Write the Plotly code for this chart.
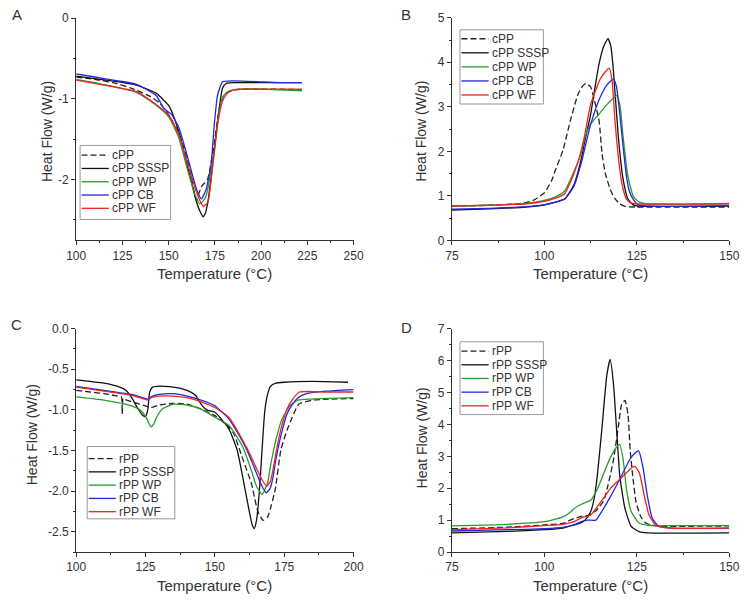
import plotly.graph_objects as go

# ---------------- Panel A (cPP heating) ----------------
A_cPP_T = [100, 110, 120, 130, 140, 145, 150, 155, 159, 162.4, 164.2, 165.2, 166.5, 168, 169.5, 171, 172.5, 174.7, 177.4, 180, 185, 190, 200, 210, 222]
A_cPP_v = [-0.73, -0.76, -0.80, -0.87, -0.97, -1.05, -1.20, -1.40, -1.66, -1.96, -2.20, -2.25, -2.16, -2.08, -2.04, -2.00, -1.85, -1.55, -1.12, -0.95, -0.89, -0.88, -0.88, -0.88, -0.89]
A_SSSP_T = [100, 110, 120, 132.6, 143.2, 150.2, 155.4, 160.7, 165.1, 167.5, 168.6, 169.8, 171.2, 173, 174.8, 177.4, 179.1, 181, 185, 190, 200, 210, 222]
A_SSSP_v = [-0.72, -0.75, -0.78, -0.83, -0.93, -1.09, -1.40, -1.88, -2.28, -2.42, -2.46, -2.42, -2.28, -1.96, -1.60, -1.11, -0.87, -0.81, -0.80, -0.80, -0.80, -0.80, -0.80]
A_WP_T = [100, 110, 120, 132.6, 143.2, 150.2, 155.4, 160.7, 164.5, 166.8, 168.5, 170.3, 172.1, 174.7, 177.4, 179.5, 182, 185, 190, 200, 210, 222]
A_WP_v = [-0.76, -0.80, -0.85, -0.92, -1.08, -1.23, -1.48, -1.92, -2.20, -2.30, -2.27, -2.20, -2.00, -1.64, -1.15, -0.97, -0.91, -0.89, -0.88, -0.88, -0.89, -0.90]
A_CB_T = [100, 110, 120, 132.6, 143.2, 147.5, 150.2, 151.5, 155.4, 160.7, 165.1, 167.7, 170.3, 173, 174.7, 176.5, 179.1, 182, 190, 200, 210, 222]
A_CB_v = [-0.69, -0.73, -0.77, -0.82, -0.96, -1.12, -1.17, -1.19, -1.35, -1.76, -2.12, -2.24, -2.12, -1.80, -1.31, -0.95, -0.79, -0.78, -0.78, -0.79, -0.80, -0.80]
A_WF_T = [100, 110, 120, 132.6, 143.2, 150.2, 155.4, 160.7, 165.1, 168.6, 171.2, 173, 174.8, 176.5, 179.1, 181.7, 185, 190, 200, 210, 222]
A_WF_v = [-0.77, -0.81, -0.85, -0.91, -1.07, -1.21, -1.44, -1.84, -2.16, -2.33, -2.28, -2.00, -1.64, -1.31, -1.03, -0.93, -0.89, -0.88, -0.88, -0.88, -0.88]

# ---------------- Panel B (cPP cooling) ----------------
B_cPP_T = [75, 85, 92, 95, 97, 100, 102, 103, 105, 107, 109, 110, 111.2, 112.5, 113.4, 114.8, 115.6, 116.5, 117.8, 119, 120.4, 122, 125, 150]
B_cPP_v = [0.77, 0.79, 0.82, 0.85, 0.90, 1.07, 1.35, 1.58, 2.02, 2.68, 3.26, 3.43, 3.52, 3.45, 3.19, 2.68, 1.95, 1.50, 1.15, 0.95, 0.82, 0.76, 0.75, 0.75]
B_SSSP_T = [75, 85, 95, 100, 103, 105.5, 108, 109.9, 111, 112.5, 114.7, 116, 117.2, 118, 118.7, 120, 121.3, 122.6, 124, 126, 150]
B_SSSP_v = [0.68, 0.71, 0.75, 0.80, 0.86, 0.93, 1.25, 1.80, 2.25, 2.83, 3.93, 4.35, 4.53, 4.35, 3.78, 2.32, 1.37, 0.93, 0.80, 0.77, 0.77]
B_WP_T = [75, 85, 95, 100, 103, 105.5, 108, 109.9, 111, 112.5, 114.7, 116.9, 118.5, 119.6, 120.5, 121.3, 122.6, 124, 125.3, 127, 150]
B_WP_v = [0.77, 0.79, 0.83, 0.90, 0.98, 1.11, 1.55, 1.95, 2.32, 2.61, 2.83, 3.05, 3.18, 3.25, 3.00, 2.32, 1.44, 1.00, 0.88, 0.83, 0.82]
B_CB_T = [75, 85, 95, 100, 103, 105.5, 108, 110, 112.5, 115, 117, 118.7, 119.5, 120.4, 121.3, 122.2, 123, 124, 125.5, 150]
B_CB_v = [0.70, 0.72, 0.76, 0.80, 0.86, 0.93, 1.22, 1.75, 2.60, 3.20, 3.50, 3.62, 3.45, 2.83, 2.10, 1.44, 1.10, 0.93, 0.80, 0.78]
B_WF_T = [75, 85, 95, 100, 103, 105.5, 107, 109, 110.8, 112.5, 115.2, 117.5, 118.3, 119.1, 120.4, 121.3, 122.2, 123.5, 150]
B_WF_v = [0.77, 0.79, 0.82, 0.88, 0.95, 1.05, 1.30, 1.73, 2.32, 3.05, 3.64, 3.87, 3.60, 2.68, 1.59, 1.15, 0.93, 0.84, 0.83]

# ---------------- Panel C (rPP heating) ----------------
C_rPP_T = [100, 105, 110, 115, 116.3, 116.6, 116.9, 117.5, 120, 125, 127, 130, 135, 140, 145, 150, 155, 156.8, 160, 163.3, 164.4, 165.5, 167.4, 169, 170.3, 171.8, 173.8, 176, 177.9, 180.2, 185, 190, 200]
C_rPP_v = [-0.76, -0.78, -0.80, -0.83, -0.84, -1.05, -0.86, -0.87, -0.90, -0.95, -0.97, -0.94, -0.92, -0.93, -0.99, -1.07, -1.21, -1.29, -1.60, -1.92, -2.10, -2.25, -2.36, -2.32, -2.18, -1.97, -1.49, -1.25, -1.09, -0.93, -0.88, -0.87, -0.86]
C_SSSP_T = [100, 105, 110, 115, 118, 120, 122, 124, 125, 125.8, 126.5, 127.5, 129, 132, 135, 140, 143, 145, 147, 150, 155, 158, 160, 162, 163.5, 164.2, 165, 166, 167, 168, 169, 170, 172, 175, 185, 198]
C_SSSP_v = [-0.63, -0.65, -0.67, -0.71, -0.76, -0.85, -0.97, -1.07, -1.08, -1.00, -0.78, -0.72, -0.71, -0.71, -0.72, -0.76, -0.82, -0.93, -1.00, -1.03, -1.23, -1.49, -1.82, -2.18, -2.42, -2.46, -2.36, -2.02, -1.49, -1.01, -0.81, -0.71, -0.67, -0.66, -0.65, -0.66]
C_WP_T = [100, 110, 120, 123, 125, 126, 127, 128, 129, 131, 135, 140, 145, 150, 155, 160, 163, 165, 167, 169, 170, 172, 174, 177, 180, 190, 200]
C_WP_v = [-0.84, -0.88, -0.95, -1.00, -1.08, -1.15, -1.21, -1.17, -1.09, -0.99, -0.93, -0.94, -0.99, -1.09, -1.19, -1.45, -1.73, -1.94, -2.04, -1.90, -1.70, -1.37, -1.13, -0.95, -0.88, -0.86, -0.85]
C_CB_T = [100, 110, 120, 124, 126, 127, 130, 135, 140, 145, 150, 155, 158, 160, 163, 165, 167, 168.5, 170, 171, 172, 174, 176, 178, 180, 183, 190, 200]
C_CB_v = [-0.71, -0.76, -0.81, -0.85, -0.87, -0.84, -0.81, -0.80, -0.83, -0.88, -0.95, -1.11, -1.27, -1.39, -1.61, -1.78, -1.94, -2.02, -1.96, -1.82, -1.61, -1.29, -1.05, -0.93, -0.85, -0.80, -0.77, -0.75]
C_WF_T = [100, 110, 120, 124, 126, 127, 130, 135, 140, 145, 150, 155, 160, 163, 165, 167, 168.7, 170, 171, 172, 174, 176, 178, 180.5, 190, 200]
C_WF_v = [-0.72, -0.77, -0.82, -0.86, -0.88, -0.85, -0.83, -0.83, -0.85, -0.90, -0.97, -1.09, -1.37, -1.57, -1.72, -1.86, -1.94, -1.88, -1.73, -1.53, -1.21, -0.99, -0.87, -0.78, -0.78, -0.78]

# ---------------- Panel D (rPP cooling) ----------------
D_rPP_T = [75, 90, 100, 105, 108, 110, 112, 114, 116, 117, 118, 118.7, 120, 120.9, 121.8, 122.6, 123.2, 123.9, 124.8, 126.1, 127.5, 130, 150]
D_rPP_v = [0.73, 0.78, 0.85, 0.90, 1.05, 1.12, 1.15, 1.30, 1.60, 2.00, 2.50, 2.90, 3.92, 4.63, 4.75, 4.32, 3.20, 2.38, 1.56, 1.10, 0.90, 0.82, 0.82]
D_SSSP_T = [75, 90, 100, 105, 108, 110, 111, 112.5, 113.5, 114.3, 115.6, 116.9, 117.8, 118.7, 119.6, 120.4, 121.8, 123.5, 125.7, 128, 150]
D_SSSP_v = [0.60, 0.65, 0.70, 0.75, 0.85, 0.92, 1.00, 1.26, 1.70, 2.38, 3.92, 5.55, 6.04, 5.25, 3.71, 2.38, 1.36, 0.80, 0.63, 0.60, 0.60]
D_WP_T = [75, 90, 100, 103, 105, 107, 108, 109.9, 111, 112.5, 114.3, 116.1, 117.8, 119.6, 120.4, 121.3, 122.2, 123.5, 125.7, 128, 150]
D_WP_v = [0.82, 0.87, 0.95, 1.03, 1.10, 1.25, 1.36, 1.49, 1.55, 1.62, 1.97, 2.48, 2.95, 3.30, 3.37, 2.90, 1.97, 1.26, 0.90, 0.84, 0.83]
D_CB_T = [75, 90, 100, 105, 108, 110, 111.7, 113.9, 115.2, 117.8, 120.4, 123.1, 124.5, 125.5, 126.6, 127.9, 129.2, 131, 135, 150]
D_CB_v = [0.66, 0.70, 0.73, 0.77, 0.85, 0.95, 1.00, 1.00, 1.21, 1.72, 2.28, 2.90, 3.10, 3.17, 2.69, 1.72, 1.05, 0.80, 0.75, 0.75]
D_WF_T = [75, 90, 100, 105, 108, 110, 112.5, 115.2, 117.8, 120.4, 123.1, 124.4, 125.7, 127.0, 128.3, 130.1, 133, 150]
D_WF_v = [0.70, 0.76, 0.83, 0.87, 0.95, 1.07, 1.16, 1.56, 1.98, 2.28, 2.59, 2.69, 2.48, 1.77, 1.16, 0.85, 0.76, 0.75]

# ---------------- labels / ticks ----------------
A_names = ["cPP", "cPP SSSP", "cPP WP", "cPP CB", "cPP WF"]
C_names = ["rPP", "rPP SSSP", "rPP WP", "rPP CB", "rPP WF"]
panel_letters = ["A", "B", "C", "D"]
x_title = "Temperature (°C)"
y_title = "Heat Flow (W/g)"
A_yticks = [0, -1, -2]
A_ytext = ["0", "-1", "-2"]
C_yticks = [0.0, -0.5, -1.0, -1.5, -2.0, -2.5]
C_ytext = ["0.0", "-0.5", "-1.0", "-1.5", "-2.0", "-2.5"]
B_yticks = [0, 1, 2, 3, 4, 5]
D_yticks = [0, 1, 2, 3, 4, 5, 6, 7]

# ---------------- styles ----------------
COLORS = ["#222222", "#111111", "#2a9a2a", "#2424e0", "#ee2222"]
DASHES = ["6px,3px", "solid", "solid", "solid", "solid"]
FONT = "Liberation Sans, Arial, sans-serif"
TXT = "#333333"
W, H = 750, 603

def px(xp):
    return xp / W

def py(yp):
    return 1 - yp / H

panels = [
    dict(series=[(A_cPP_T, A_cPP_v), (A_SSSP_T, A_SSSP_v), (A_WP_T, A_WP_v), (A_CB_T, A_CB_v), (A_WF_T, A_WF_v)],
         names=A_names, xd=(68, 353), yd=(11.3, 238.7), xr=[100, 250], yr=[-2.75, 0],
         ytv=A_yticks, ytt=A_ytext, ymin=0.5,
         box=(72, 165, 141.7, 217.5), ent0=151.7, step=13.6),
    dict(series=[(B_cPP_T, B_cPP_v), (B_SSSP_T, B_SSSP_v), (B_WP_T, B_WP_v), (B_CB_T, B_CB_v), (B_WF_T, B_WF_v)],
         names=A_names, xd=(454, 739), yd=(11, 239), xr=[75, 150], yr=[0, 5],
         ytv=B_yticks, ytt=[str(t) for t in B_yticks], ymin=0.5,
         box=(462.3, 548, 23.3, 99.3), ent0=32.5, step=14.4),
    dict(series=[(C_rPP_T, C_rPP_v), (C_SSSP_T, C_SSSP_v), (C_WP_T, C_WP_v), (C_CB_T, C_CB_v), (C_WF_T, C_WF_v)],
         names=C_names, xd=(68, 353), yd=(329.3, 558), xr=[100, 200], yr=[-2.75, 0],
         ytv=C_yticks, ytt=C_ytext, ymin=0.25,
         box=(79.3, 169.3, 450, 524), ent0=462.3, step=13.6),
    dict(series=[(D_rPP_T, D_rPP_v), (D_SSSP_T, D_SSSP_v), (D_WP_T, D_WP_v), (D_CB_T, D_CB_v), (D_WF_T, D_WF_v)],
         names=C_names, xd=(454, 739), yd=(329.3, 558), xr=[75, 150], yr=[0, 7],
         ytv=D_yticks, ytt=[str(t) for t in D_yticks], ymin=0.5,
         box=(462.3, 548, 342.7, 417.3), ent0=352.3, step=14.0),
]

fig = go.Figure()
layout = dict(
    width=W, height=H, margin=dict(l=0, r=0, t=0, b=0),
    paper_bgcolor="white", plot_bgcolor="white",
    font=dict(family=FONT, color=TXT, size=12),
    showlegend=False,
)
shapes = []
annotations = []

for i, p in enumerate(panels):
    k = "" if i == 0 else str(i + 1)
    for j, ((T, v), name) in enumerate(zip(p["series"], p["names"])):
        fig.add_trace(go.Scatter(
            x=T, y=v, mode="lines", name=name,
            line=dict(color=COLORS[j], width=1.3, dash=DASHES[j], shape="spline", smoothing=0.5),
            xaxis="x" + k, yaxis="y" + k,
        ))
    axcommon = dict(showgrid=False, zeroline=False, showline=True, linecolor=TXT, linewidth=1,
                    ticks="outside", ticklen=4, tickwidth=1, tickcolor=TXT,
                    tickfont=dict(size=12, color=TXT),
                    minor=dict(ticks="outside", ticklen=2, tickwidth=1, tickcolor=TXT))
    layout["xaxis" + k] = dict(domain=[px(p["xd"][0]), px(p["xd"][1])], range=p["xr"], dtick=25, tick0=0,
                               anchor="y" + k, minor_dtick=12.5, **axcommon)
    layout["yaxis" + k] = dict(domain=[py(p["yd"][1]), py(p["yd"][0])], range=p["yr"],
                               tickmode="array", tickvals=p["ytv"], ticktext=p["ytt"],
                               anchor="x" + k, minor_dtick=p["ymin"], minor_tick0=0, **axcommon)

    # legend box (drawn as a framed panel with line samples and real text)
    bx0, bx1, by0, by1 = p["box"]
    shapes.append(dict(type="rect", xref="paper", yref="paper", x0=px(bx0), x1=px(bx1), y0=py(by1), y1=py(by0),
                       line=dict(color="#999999", width=1), fillcolor="white", layer="above"))
    for j, name in enumerate(p["names"]):
        ey = p["ent0"] + j * p["step"]
        shapes.append(dict(type="line", xref="paper", yref="paper", x0=px(bx0 + 1.5), x1=px(bx0 + 29.5),
                           y0=py(ey), y1=py(ey), layer="above",
                           line=dict(color=COLORS[j], width=1.3, dash=DASHES[j])))
        annotations.append(dict(text=name, x=px(bx0 + 30.5), y=py(ey), xref="paper", yref="paper",
                                showarrow=False, xanchor="left", yanchor="middle",
                                font=dict(size=12, color=TXT)))

fig.update_layout(**layout)

# axis titles
for i, p in enumerate(panels):
    xc = (p["xd"][0] + p["xd"][1]) / 2
    ybot = p["yd"][1]
    annotations.append(dict(text=x_title, x=px(xc), y=py(ybot + 34), xref="paper", yref="paper",
                            showarrow=False, font=dict(size=15, color=TXT), xanchor="center", yanchor="middle"))
y_title_pos = [(38, 127), (422, 127), (22, 438), (423, 441)]
for (xp, yp) in y_title_pos:
    annotations.append(dict(text=y_title, x=px(xp), y=py(yp), xref="paper", yref="paper", textangle=-90,
                            showarrow=False, font=dict(size=14, color=TXT), xanchor="center", yanchor="middle"))
letter_pos = [(7, 8), (407, 8), (7, 325), (407, 328)]
for letter, (xp, yp) in zip(panel_letters, letter_pos):
    annotations.append(dict(text=letter, x=px(xp), y=py(yp), xref="paper", yref="paper",
                            showarrow=False, font=dict(size=15, color=TXT), xanchor="center", yanchor="middle"))
fig.update_layout(annotations=annotations, shapes=shapes)

fig.write_html("out.html", config={"displayModeBar": False},
               post_script="document.body.style.margin='0';document.body.style.padding='0';document.documentElement.style.overflow='hidden';")
